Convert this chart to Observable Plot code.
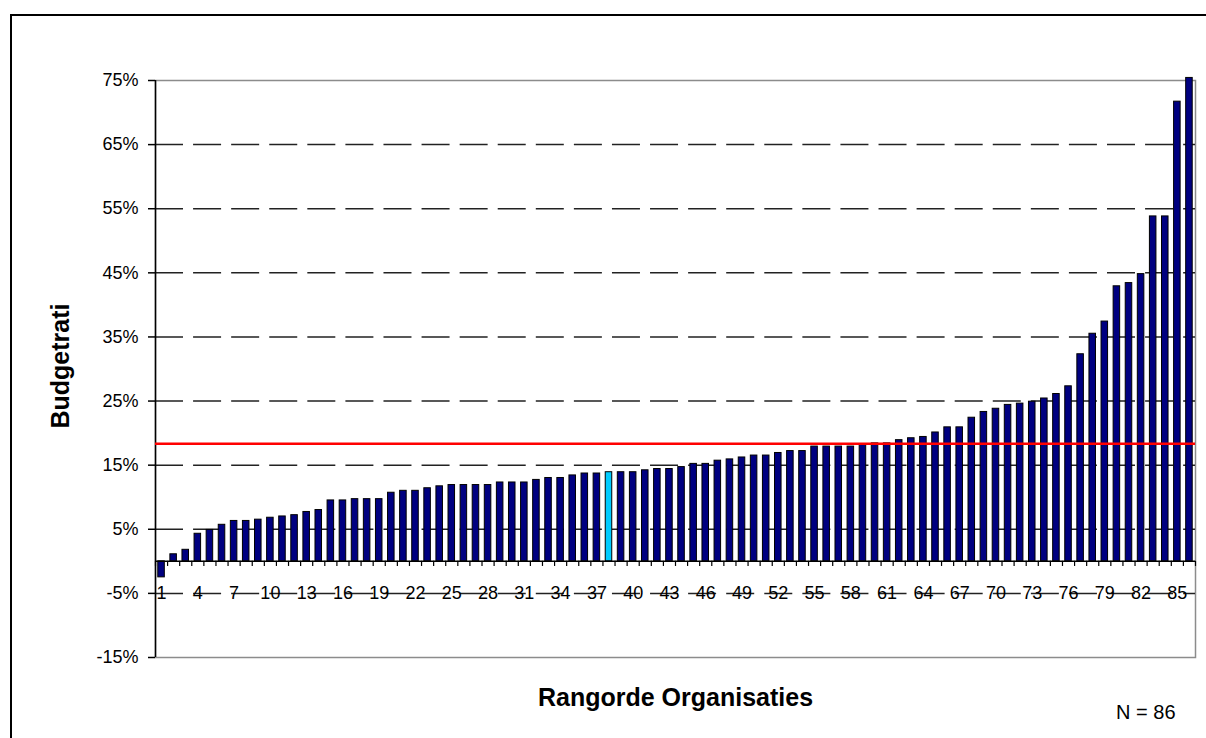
<!DOCTYPE html>
<html><head><meta charset="utf-8">
<script src="https://cdn.jsdelivr.net/npm/d3@7"></script>
<script src="https://cdn.jsdelivr.net/npm/@observablehq/plot@0.6"></script>
<style>
html,body{margin:0;padding:0;background:#fff;width:1206px;height:738px;overflow:hidden;}
#chart{position:absolute;left:0;top:0;}
#frame{position:absolute;left:10px;top:14px;width:1200px;height:730px;border-left:2px solid #000;border-top:2px solid #000;pointer-events:none;}
</style></head><body>
<div id="chart"></div><div id="frame"></div>
<script>
// Categories: rank of organisation 1..86
const ranks = d3.range(1, 87);
// Budget ratio (%) per organisation, sorted
const values = [
  -2.5, 1.1, 1.8, 4.3, 4.9, 5.7, 6.3, 6.3, 6.5, 6.8,
  7.0, 7.2, 7.7, 8.0, 9.5, 9.5, 9.7, 9.7, 9.7, 10.7,
  11.0, 11.0, 11.4, 11.7, 11.9, 11.9, 11.9, 11.9, 12.3, 12.3,
  12.3, 12.7, 13.0, 13.0, 13.4, 13.7, 13.7, 13.9, 13.9, 13.9,
  14.2, 14.4, 14.4, 14.7, 15.2, 15.2, 15.7, 15.9, 16.2, 16.5,
  16.5, 16.9, 17.2, 17.2, 17.9, 17.9, 17.9, 17.9, 18.2, 18.4,
  18.4, 18.9, 19.2, 19.4, 20.1, 20.9, 20.9, 22.4, 23.3, 23.8,
  24.4, 24.6, 24.9, 25.4, 26.1, 27.3, 32.3, 35.5, 37.4, 42.9,
  43.4, 44.8, 53.8, 53.8, 71.7, 75.4
];
const highlightRank = 38;
const averageValue = 18.35;
const yTicks = [-15, -5, 5, 15, 25, 35, 45, 55, 65, 75];
const gridValues = [-5, 5, 15, 25, 35, 45, 55, 65];
const xLabelRanks = [1, 4, 7, 10, 13, 16, 19, 22, 25, 28, 31, 34, 37, 40, 43, 46, 49, 52, 55, 58, 61, 64, 67, 70, 73, 76, 79, 82, 85];
const yTitle = "Budgetrati";
const xTitle = "Rangorde Organisaties";
const nNote = "N = 86";

const data = ranks.map((r, i) => ({rank: r, value: values[i]}));
const boundaries = [ranks[0] - 0.5, ...ranks.map(r => r + 0.5)];

const plot = Plot.plot({
  width: 1206, height: 738,
  marginLeft: 155, marginRight: 11, marginTop: 80, marginBottom: 81,
  style: {background: "transparent", fontFamily: "'Liberation Sans', Arial, sans-serif", color: "#000"},
  x: {type: "linear", domain: [0.5, 86.5], axis: null},
  y: {domain: [-15, 75], axis: null},
  marks: [
    Plot.frame({stroke: "#8c8c8c", strokeWidth: 1.5}),
    Plot.ruleY(gridValues, {stroke: "#222", strokeWidth: 1.5, strokeDasharray: "28,10.08"}),
    Plot.rectY(data, {
      x1: d => d.rank - 0.27, x2: d => d.rank + 0.27, y1: 0, y2: "value",
      fill: d => d.rank === highlightRank ? "#00CCFF" : "#000080",
      stroke: "#000", strokeWidth: 1
    }),
    Plot.ruleY([0], {stroke: "#000", strokeWidth: 1.5}),
    Plot.ruleX(boundaries, {x: d => d, y1: 0, y2: -0.8, stroke: "#000", strokeWidth: 1.2}),
    Plot.ruleX([0.5], {stroke: "#000", strokeWidth: 1.5}),
    Plot.ruleY([averageValue], {stroke: "#ff0000", strokeWidth: 2.5}),
    Plot.axisY({ticks: yTicks, tickFormat: d => d + "%", tickSize: 7, tickPadding: 10, fontSize: 18, stroke: "#000", strokeWidth: 1.5, fill: "#000", label: null}),
    Plot.text(xLabelRanks, {x: d => d, y: -5, text: d => String(d), fontSize: 18, fill: "#000"}),
    Plot.text([yTitle], {frameAnchor: "left", dx: -95, dy: -3, rotate: -90, textAnchor: "middle", lineAnchor: "middle", fontSize: 25, fontWeight: "bold", fill: "#000"}),
    Plot.text([xTitle], {frameAnchor: "bottom", dy: 40, textAnchor: "middle", lineAnchor: "middle", fontSize: 25, fontWeight: "bold", fill: "#000"}),
    Plot.text([nNote], {frameAnchor: "bottom-right", dx: -20, dy: 47, textAnchor: "end", lineAnchor: "top", fontSize: 20, fill: "#000"})
  ]
});
document.getElementById("chart").appendChild(plot);
</script>
</body></html>
